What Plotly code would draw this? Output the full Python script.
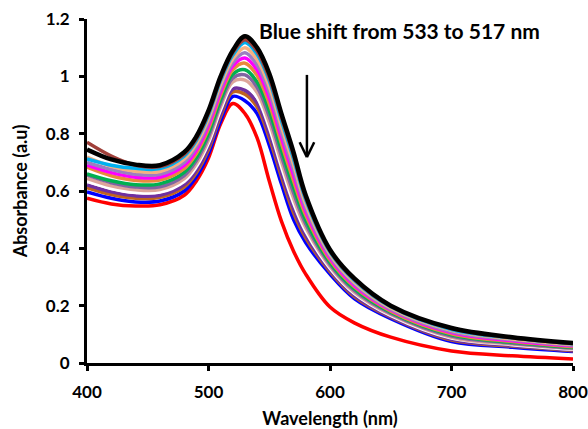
import plotly.graph_objects as go

# Wavelength sample points (nm)
wavelength = [400, 420, 440, 460, 480, 490, 500, 510, 520, 530, 540, 550, 560, 570, 580, 600, 620, 650, 700, 750, 800]

# Absorbance spectra (a.u.)
red =        [.575, .555, .548, .552, .585, .635, .715, .835, .905, .870, .785, .635, .495, .390, .310, .195, .140, .090, .042, .025, .014]
blue =       [.597, .575, .562, .565, .600, .650, .730, .845, .930, .915, .870, .760, .625, .500, .420, .310, .225, .155, .075, .055, .040]
brown_org =  [.612, .588, .575, .578, .614, .664, .745, .861, .946, .938, .893, .785, .650, .524, .437, .319, .232, .160, .080, .059, .043]
purple =     [.621, .597, .583, .585, .622, .672, .754, .870, .956, .951, .907, .800, .664, .538, .446, .324, .236, .162, .083, .061, .045]
white =      [.634, .609, .595, .596, .634, .685, .768, .884, .970, .971, .928, .823, .686, .559, .461, .331, .243, .166, .087, .064, .048]
tan =        [.644, .618, .604, .605, .643, .695, .778, .895, .981, .987, .944, .840, .703, .575, .473, .337, .247, .169, .090, .066, .050]
lilac =      [.656, .629, .614, .615, .654, .706, .790, .907, .994, 1.005, .962, .860, .723, .594, .486, .344, .253, .173, .094, .069, .052]
green =      [.660, .636, .622, .625, .665, .717, .802, .919, 1.007, 1.023, .980, .880, .743, .613, .499, .351, .259, .177, .098, .072, .054]
orange =     [.683, .653, .637, .638, .678, .731, .817, .935, 1.023, 1.046, 1.003, .905, .767, .636, .516, .359, .266, .181, .102, .075, .057]
magenta =    [.690, .664, .648, .648, .689, .742, .829, .947, 1.036, 1.064, 1.022, .925, .787, .655, .529, .366, .271, .185, .106, .078, .060]
violet =     [.700, .675, .658, .658, .700, .754, .841, .960, 1.048, 1.082, 1.040, .945, .806, .674, .542, .373, .277, .188, .110, .081, .062]
peach =      [.718, .686, .669, .668, .711, .765, .853, .972, 1.061, 1.100, 1.059, .965, .826, .693, .555, .380, .282, .192, .114, .084, .065]
light_blue = [.712, .690, .679, .678, .722, .776, .865, .985, 1.074, 1.118, 1.077, .985, .846, .712, .569, .387, .288, .196, .117, .087, .067]
brown_red =  [.770, .722, .690, .685, .728, .782, .872, .992, 1.082, 1.128, 1.088, .995, .858, .724, .577, .391, .291, .198, .120, .088, .068]
black =      [.745, .710, .692, .690, .735, .790, .880, 1.000, 1.090, 1.140, 1.100, 1.010, .870, .735, .585, .395, .295, .200, .122, .090, .070]

series = [
    ("red", red, "#FF0000"),
    ("blue", blue, "#0000FF"),
    ("brown_org", brown_org, "#C0641E"),
    ("purple", purple, "#7030A0"),
    ("white", white, "#FFFFFF"),
    ("tan", tan, "#DDA59B"),
    ("lilac", lilac, "#8064A2"),
    ("green", green, "#00B050"),
    ("orange", orange, "#E98A3C"),
    ("magenta", magenta, "#FF00FF"),
    ("violet", violet, "#9B7FC0"),
    ("peach", peach, "#F4B183"),
    ("light_blue", light_blue, "#00B0F0"),
    ("brown_red", brown_red, "#A0403A"),
    ("black", black, "#000000"),
]

x_ticks = [400, 500, 600, 700, 800]
y_ticks = [0, 0.2, 0.4, 0.6, 0.8, 1.0, 1.2]
y_tick_text = ["0", "0.2", "0.4", "0.6", "0.8", "1", "1.2"]

annotation_text = "Blue shift from 533 to 517 nm"

fig = go.Figure()
for name, vals, col in series:
    fig.add_trace(go.Scatter(
        x=wavelength, y=vals, mode="lines", name=name,
        line=dict(color=col, width=4.5 if name == "black" else 3.5, shape="spline", smoothing=1.0),
        showlegend=False, hoverinfo="skip",
    ))

font_family = "Lato, Open Sans, sans-serif"

fig.update_layout(
    width=588, height=429,
    margin=dict(l=87, r=15, t=19, b=66, autoexpand=False),
    paper_bgcolor="white", plot_bgcolor="white",
    font=dict(family=font_family, color="black"),
    xaxis=dict(
        range=[400, 800], tickvals=x_ticks, ticktext=[str(v) for v in x_ticks],
        showline=True, linecolor="black", linewidth=3,
        ticks="outside", ticklen=5, tickwidth=3, tickcolor="black",
        showgrid=False, zeroline=False, automargin=False,
        tickfont=dict(family=font_family, size=17, weight="bold", color="black"),
        ticklabelstandoff=7,
        title=dict(text="Wavelength (nm)", standoff=12,
                   font=dict(family=font_family, size=18, weight="bold", color="black")),
    ),
    yaxis=dict(
        range=[0, 1.2], tickvals=y_ticks, ticktext=y_tick_text,
        showline=True, linecolor="black", linewidth=3,
        ticks="outside", ticklen=5, tickwidth=3, tickcolor="black",
        showgrid=False, zeroline=False, automargin=False,
        tickfont=dict(family=font_family, size=17, weight="bold", color="black"),
        ticklabelstandoff=6,
        title=dict(text="Absorbance (a.u)", standoff=14,
                   font=dict(family=font_family, size=18, weight="bold", color="black")),
    ),
)

fig.add_annotation(
    x=657, y=1.161, xref="x", yref="y", text=annotation_text,
    showarrow=False, font=dict(family=font_family, size=21, weight="bold", color="black"),
)

# Downward arrow (shaft + open V head)
arrow_x = 581
arrow_top, arrow_tip = 1.005, 0.718
line_style = dict(color="black", width=2.5)
fig.add_shape(type="line", x0=arrow_x, x1=arrow_x, y0=arrow_top, y1=arrow_tip + 0.004, line=line_style)
fig.add_shape(type="line", x0=arrow_x - 6, x1=arrow_x, y0=arrow_tip + 0.052, y1=arrow_tip, line=line_style)
fig.add_shape(type="line", x0=arrow_x + 6, x1=arrow_x, y0=arrow_tip + 0.052, y1=arrow_tip, line=line_style)

fig.write_html("out.html", config={"displayModeBar": False},
               post_script="document.body.style.margin='0';")
